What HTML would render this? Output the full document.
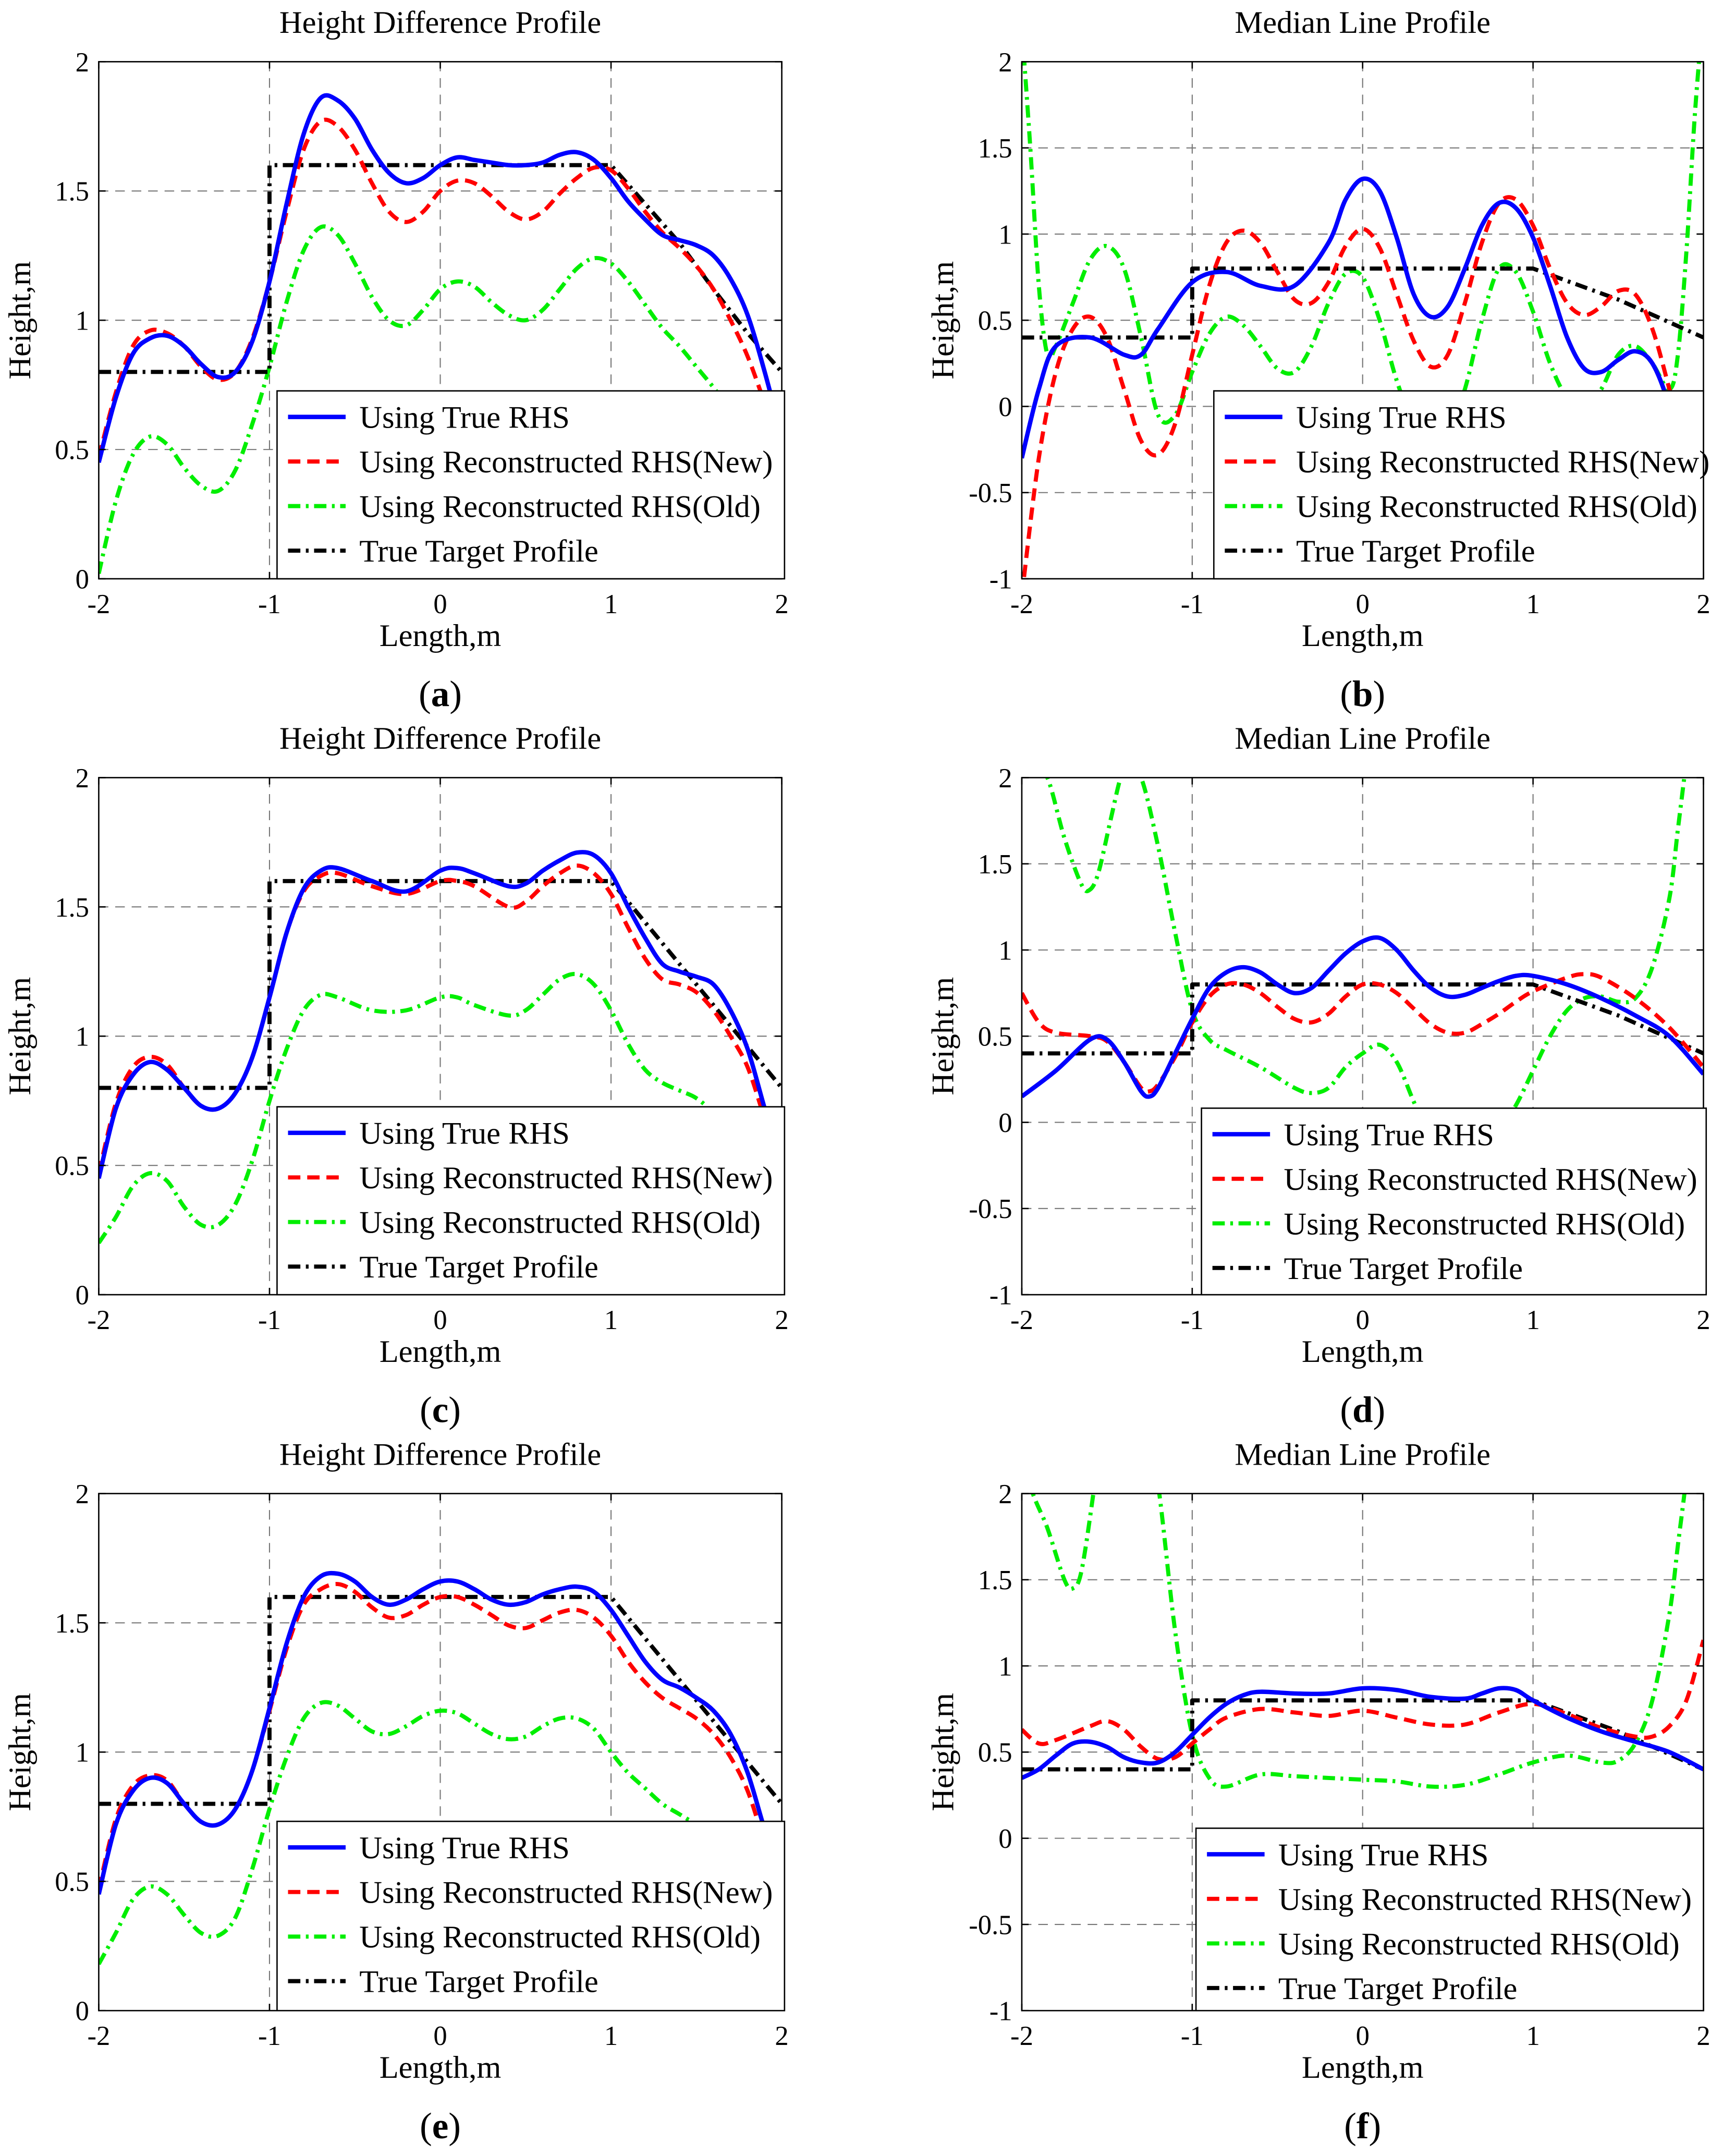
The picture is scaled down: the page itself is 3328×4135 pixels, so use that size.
<!DOCTYPE html>
<html><head><meta charset="utf-8">
<style>
html,body{margin:0;padding:0;background:#fff;}
svg{display:block;}
text{font-family:"Liberation Serif",serif;fill:#000;}
</style></head>
<body>
<svg id="fig" xmlns="http://www.w3.org/2000/svg" width="3328" height="4135" viewBox="0 0 1265 1572" preserveAspectRatio="none"></svg>
<script>
// ---------- DATA ----------
const legendLabels = ["Using True RHS","Using Reconstructed RHS(New)","Using Reconstructed RHS(Old)","True Target Profile"];
const xTicks = [-2,-1,0,1,2];
const yTicksHD = [0,0.5,1,1.5,2];
const yTicksML = [-1,-0.5,0,0.5,1,1.5,2];

// Panel a
const aBlueX=[-2,-1.9,-1.8,-1.7,-1.6,-1.5,-1.4,-1.3,-1.2,-1.1,-1,-0.9,-0.8,-0.7,-0.6,-0.5,-0.4,-0.3,-0.2,-0.1,0,0.1,0.2,0.3,0.4,0.5,0.6,0.7,0.8,0.9,1,1.1,1.2,1.3,1.4,1.5,1.6,1.7,1.8,1.9,2];
const aBlueY=[0.45,0.7,0.87,0.93,0.94,0.9,0.83,0.78,0.8,0.92,1.15,1.45,1.72,1.86,1.85,1.78,1.66,1.57,1.53,1.55,1.6,1.63,1.62,1.61,1.6,1.6,1.61,1.64,1.65,1.62,1.55,1.46,1.39,1.33,1.31,1.29,1.25,1.16,1.02,0.8,0.55];
const aRedY=[0.47,0.72,0.9,0.96,0.95,0.9,0.82,0.77,0.8,0.93,1.15,1.42,1.66,1.77,1.75,1.66,1.53,1.42,1.38,1.42,1.5,1.54,1.53,1.48,1.42,1.39,1.42,1.49,1.55,1.59,1.58,1.51,1.42,1.34,1.28,1.21,1.12,1.0,0.86,0.68,0.5];
const aGreenY=[0.02,0.3,0.48,0.55,0.52,0.43,0.36,0.34,0.42,0.6,0.82,1.07,1.27,1.36,1.33,1.22,1.09,1.0,0.98,1.04,1.12,1.15,1.13,1.07,1.02,1.0,1.04,1.12,1.2,1.24,1.22,1.15,1.06,0.97,0.9,0.82,0.74,0.65,0.55,0.45,0.35];
const aBlackX=[-2,-1,-1,1,1.2,1.4,1.6,1.8,2];
const aBlackY=[0.8,0.8,1.6,1.6,1.45,1.3,1.12,0.95,0.8];

// Panel b
const bBlueX=[-2,-1.9,-1.8,-1.6,-1.4,-1.3,-1.2,-1,-0.8,-0.6,-0.4,-0.2,-0.1,0,0.1,0.2,0.3,0.4,0.5,0.6,0.7,0.8,0.9,1,1.1,1.2,1.3,1.4,1.5,1.6,1.7,1.8,1.9];
const bBlueY=[-0.3,0.1,0.35,0.4,0.3,0.3,0.45,0.72,0.78,0.7,0.7,0.95,1.2,1.32,1.25,0.98,0.65,0.52,0.58,0.8,1.05,1.18,1.15,0.98,0.7,0.4,0.22,0.2,0.27,0.32,0.25,0.0,-0.4];
const bRedX=[-2,-1.9,-1.8,-1.7,-1.6,-1.5,-1.4,-1.3,-1.2,-1.1,-1,-0.9,-0.8,-0.7,-0.6,-0.5,-0.4,-0.3,-0.2,-0.1,0,0.1,0.2,0.3,0.4,0.5,0.6,0.7,0.8,0.9,1,1.1,1.2,1.3,1.4,1.5,1.6,1.7,1.8,1.9];
const bRedY=[-1.1,-0.3,0.2,0.45,0.52,0.4,0.1,-0.2,-0.28,-0.1,0.3,0.7,0.95,1.02,0.95,0.78,0.62,0.6,0.72,0.93,1.03,0.92,0.65,0.38,0.23,0.3,0.6,0.95,1.18,1.2,1.05,0.8,0.6,0.53,0.58,0.67,0.65,0.45,0.1,-0.3];
const bGreenX=[-2,-1.95,-1.9,-1.85,-1.8,-1.7,-1.6,-1.5,-1.4,-1.3,-1.2,-1.1,-1,-0.9,-0.8,-0.7,-0.6,-0.5,-0.4,-0.3,-0.2,-0.1,0,0.1,0.2,0.3,0.4,0.5,0.6,0.7,0.8,0.9,1,1.1,1.2,1.3,1.4,1.5,1.6,1.7,1.8,1.85,1.9,1.95,2];
const bGreenY=[2.2,1.5,0.7,0.3,0.35,0.6,0.85,0.93,0.8,0.4,-0.05,-0.05,0.2,0.42,0.52,0.47,0.35,0.22,0.2,0.35,0.6,0.77,0.75,0.5,0.15,-0.1,-0.2,-0.15,0.1,0.5,0.8,0.78,0.55,0.25,0.05,0.0,0.1,0.3,0.35,0.25,0.1,0.3,0.9,1.7,2.3];
const bBlackX=[-2,-1,-1,1,1.5,2];
const bBlackY=[0.4,0.4,0.8,0.8,0.62,0.4];

// Panel c
const cBlueX=[-2,-1.9,-1.8,-1.7,-1.6,-1.5,-1.4,-1.3,-1.2,-1.1,-1,-0.9,-0.8,-0.7,-0.6,-0.4,-0.2,0,0.1,0.2,0.4,0.5,0.6,0.7,0.8,0.9,1,1.1,1.2,1.3,1.4,1.5,1.6,1.7,1.8,1.9,2];
const cBlueY=[0.45,0.72,0.85,0.9,0.87,0.8,0.73,0.72,0.78,0.92,1.15,1.4,1.57,1.64,1.65,1.6,1.56,1.64,1.65,1.63,1.58,1.59,1.64,1.68,1.71,1.7,1.63,1.5,1.38,1.28,1.25,1.23,1.2,1.1,0.95,0.72,0.5];
const cRedY=[0.47,0.74,0.88,0.92,0.89,0.8,0.73,0.72,0.78,0.92,1.15,1.4,1.56,1.62,1.63,1.58,1.55,1.6,1.6,1.58,1.5,1.52,1.58,1.63,1.66,1.63,1.55,1.42,1.3,1.22,1.2,1.17,1.1,1.0,0.88,0.68,0.48];
const cGreenY=[0.2,0.3,0.42,0.47,0.44,0.34,0.27,0.27,0.35,0.52,0.75,0.95,1.1,1.16,1.15,1.1,1.1,1.15,1.15,1.12,1.08,1.1,1.16,1.22,1.24,1.2,1.1,0.97,0.87,0.82,0.79,0.76,0.7,0.6,0.5,0.4,0.3];
const cBlackX=[-2,-1,-1,1,1.5,2];
const cBlackY=[0.8,0.8,1.6,1.6,1.2,0.8];

// Panel d
const dBlueX=[-2,-1.8,-1.6,-1.5,-1.4,-1.3,-1.25,-1.2,-1.1,-1,-0.9,-0.8,-0.7,-0.6,-0.5,-0.4,-0.3,-0.2,-0.1,0,0.1,0.2,0.3,0.4,0.5,0.6,0.7,0.8,0.9,1,1.2,1.4,1.6,1.8,2];
const dBlueY=[0.15,0.3,0.48,0.48,0.35,0.18,0.15,0.2,0.4,0.6,0.78,0.87,0.9,0.87,0.8,0.75,0.78,0.88,0.98,1.05,1.07,1.0,0.88,0.78,0.73,0.74,0.78,0.82,0.85,0.85,0.8,0.72,0.62,0.5,0.28];
const dRedX=[-2,-1.9,-1.8,-1.6,-1.5,-1.4,-1.3,-1.25,-1.2,-1.1,-1,-0.9,-0.8,-0.7,-0.6,-0.5,-0.4,-0.3,-0.2,-0.1,0,0.1,0.2,0.3,0.4,0.5,0.6,0.7,0.8,0.9,1,1.2,1.3,1.4,1.6,1.8,2];
const dRedY=[0.75,0.58,0.52,0.5,0.47,0.35,0.2,0.18,0.22,0.38,0.58,0.73,0.8,0.8,0.75,0.67,0.6,0.58,0.63,0.73,0.8,0.8,0.75,0.66,0.57,0.52,0.52,0.57,0.63,0.7,0.76,0.84,0.86,0.84,0.72,0.55,0.32];
const dGreenX=[-2,-1.93,-1.85,-1.75,-1.65,-1.6,-1.55,-1.48,-1.42,-1.38,-1.3,-1.2,-1.1,-1,-0.9,-0.8,-0.6,-0.4,-0.3,-0.2,-0.1,0,0.1,0.2,0.3,0.4,0.6,0.8,0.9,1,1.1,1.2,1.3,1.4,1.5,1.6,1.7,1.8,1.85,1.9,1.95];
const dGreenY=[2.3,2.05,2.0,1.65,1.38,1.35,1.45,1.75,2.0,2.05,2.0,1.6,1.1,0.65,0.48,0.42,0.32,0.2,0.17,0.2,0.32,0.4,0.45,0.35,0.12,-0.1,-0.25,-0.05,0.1,0.3,0.5,0.65,0.72,0.73,0.7,0.72,0.9,1.3,1.7,2.1,2.5];
const dBlackX=[-2,-1,-1,1,1.5,2];
const dBlackY=[0.4,0.4,0.8,0.8,0.62,0.4];

// Panel e
const eBlueX=[-2,-1.9,-1.8,-1.7,-1.6,-1.5,-1.4,-1.3,-1.2,-1.1,-1,-0.9,-0.8,-0.7,-0.6,-0.5,-0.4,-0.3,-0.2,-0.1,0,0.1,0.2,0.3,0.4,0.5,0.6,0.7,0.8,0.9,1,1.1,1.2,1.3,1.4,1.5,1.6,1.7,1.8,1.9,2];
const eBlueY=[0.45,0.72,0.85,0.9,0.88,0.8,0.73,0.72,0.78,0.93,1.17,1.42,1.6,1.68,1.69,1.66,1.6,1.57,1.59,1.63,1.66,1.66,1.63,1.59,1.57,1.58,1.61,1.63,1.64,1.62,1.55,1.45,1.35,1.28,1.25,1.21,1.16,1.07,0.92,0.7,0.5];
const eRedY=[0.47,0.74,0.87,0.91,0.89,0.8,0.73,0.72,0.78,0.93,1.16,1.4,1.57,1.63,1.65,1.62,1.56,1.52,1.53,1.57,1.6,1.6,1.57,1.53,1.49,1.48,1.51,1.54,1.55,1.52,1.45,1.35,1.27,1.21,1.17,1.13,1.07,0.98,0.85,0.65,0.47];
const eGreenY=[0.18,0.3,0.43,0.48,0.45,0.37,0.3,0.29,0.36,0.55,0.78,0.98,1.13,1.19,1.18,1.13,1.08,1.07,1.1,1.14,1.16,1.15,1.11,1.07,1.05,1.06,1.1,1.13,1.13,1.09,1.0,0.92,0.86,0.8,0.76,0.72,0.68,0.6,0.5,0.4,0.3];
const eBlackX=[-2,-1,-1,1,1.5,2];
const eBlackY=[0.8,0.8,1.6,1.6,1.2,0.8];

// Panel f
const fBlueX=[-2,-1.9,-1.8,-1.7,-1.6,-1.5,-1.4,-1.3,-1.2,-1.1,-1,-0.9,-0.8,-0.7,-0.6,-0.4,-0.2,0,0.2,0.4,0.6,0.7,0.8,0.9,1,1.2,1.4,1.6,1.8,2];
const fBlueY=[0.35,0.4,0.48,0.55,0.56,0.53,0.47,0.44,0.44,0.5,0.6,0.7,0.78,0.83,0.85,0.84,0.84,0.87,0.86,0.82,0.81,0.84,0.87,0.86,0.8,0.7,0.62,0.56,0.5,0.4];
const fRedX=[-2,-1.9,-1.8,-1.6,-1.5,-1.4,-1.3,-1.2,-1.1,-1,-0.9,-0.8,-0.6,-0.4,-0.2,0,0.2,0.4,0.6,0.8,1,1.2,1.4,1.6,1.7,1.8,1.9,2];
const fRedY=[0.63,0.55,0.57,0.65,0.68,0.63,0.53,0.46,0.47,0.55,0.63,0.7,0.75,0.73,0.71,0.74,0.7,0.66,0.66,0.73,0.78,0.72,0.64,0.59,0.59,0.65,0.8,1.15];
const fGreenX=[-2,-1.95,-1.85,-1.75,-1.7,-1.65,-1.58,-1.5,-1.3,-1.2,-1.1,-1,-0.9,-0.8,-0.6,-0.4,-0.2,0,0.2,0.4,0.6,0.8,1,1.2,1.4,1.5,1.6,1.7,1.8,1.85,1.9,1.95];
const fGreenY=[2.4,2.05,1.8,1.5,1.45,1.55,2.0,2.6,2.6,2.05,1.2,0.6,0.35,0.3,0.37,0.36,0.35,0.34,0.33,0.3,0.31,0.37,0.44,0.48,0.44,0.45,0.55,0.8,1.3,1.7,2.1,2.6];
const fBlackX=[-2,-1,-1,1,1.5,2];
const fBlackY=[0.4,0.4,0.8,0.8,0.62,0.4];

// ---------- RENDER ----------
const NS="http://www.w3.org/2000/svg";
const svg=document.getElementById('fig');
function mk(tag,attrs,parent){const e=document.createElementNS(NS,tag);for(const k in attrs)e.setAttribute(k,attrs[k]);(parent||svg).appendChild(e);return e;}

function smoothPath(xs,ys,sx,sy){
  const p=xs.map((x,i)=>[sx(x),sy(ys[i])]);
  let d=`M${p[0][0].toFixed(2)},${p[0][1].toFixed(2)}`;
  for(let i=0;i<p.length-1;i++){
    const p0=p[Math.max(0,i-1)],p1=p[i],p2=p[i+1],p3=p[Math.min(p.length-1,i+2)];
    const c1=[p1[0]+(p2[0]-p0[0])/6,p1[1]+(p2[1]-p0[1])/6];
    const c2=[p2[0]-(p3[0]-p1[0])/6,p2[1]-(p3[1]-p1[1])/6];
    d+=` C${c1[0].toFixed(2)},${c1[1].toFixed(2)} ${c2[0].toFixed(2)},${c2[1].toFixed(2)} ${p2[0].toFixed(2)},${p2[1].toFixed(2)}`;
  }
  return d;
}
function linePath(xs,ys,sx,sy){return xs.map((x,i)=>(i?'L':'M')+sx(x).toFixed(2)+','+sy(ys[i]).toFixed(2)).join(' ');}

const styles={
  blue:{stroke:'#0000ff',w:3.2,dash:''},
  red:{stroke:'#ff0000',w:3,dash:'9 5'},
  green:{stroke:'#00ee00',w:3,dash:'9 4 2 4'},
  black:{stroke:'#000000',w:3,dash:'9 4 2 4'}
};

function panel(opt){
  const {id,x0,x1,y0,y1,ymin,ymax,yTicks,title,caption,legend,series}=opt;
  const g=mk('g',{});
  
  
  const sx=v=>x0+(v+2)/4*(x1-x0);
  const sy=v=>y1-(v-ymin)/(ymax-ymin)*(y1-y0);
  mk('rect',{x:x0,y:y0,width:x1-x0,height:y1-y0,fill:'#fff'},g);
  const grid=mk('g',{stroke:'#777','stroke-width':0.8,'stroke-dasharray':'7 5',fill:'none'},g);
  
  
  xTicks.slice(1,-1).forEach(t=>mk('line',{x1:sx(t),x2:sx(t),y1:y0,y2:y1},grid));
  yTicks.slice(1,-1).forEach(t=>mk('line',{x1:x0,x2:x1,y1:sy(t),y2:sy(t)},grid));
  const cid='clip-'+id;
  const cp=mk('clipPath',{id:cid},g);mk('rect',{x:x0,y:y0,width:x1-x0,height:y1-y0},cp);
  const sg=mk('g',{'clip-path':`url(#${cid})`},g);
  series.forEach(s=>{
    const st=styles[s.c];
    const d=s.c==='black'?linePath(s.x,s.y,sx,sy):smoothPath(s.x,s.y,sx,sy);
    const pth=mk('path',{d:d,fill:'none',stroke:st.stroke,'stroke-width':st.w,'stroke-dasharray':st.dash,'stroke-linejoin':'round'},sg);
    
    
  });
  const box=mk('rect',{x:x0,y:y0,width:x1-x0,height:y1-y0,fill:'none',stroke:'#000','stroke-width':1},g);
  
  
  xTicks.forEach(t=>{
    mk('line',{x1:sx(t),x2:sx(t),y1:y1,y2:y1-5,stroke:'#000','stroke-width':1},g);
    mk('line',{x1:sx(t),x2:sx(t),y1:y0,y2:y0+5,stroke:'#000','stroke-width':1},g);
    const tx=mk('text',{x:sx(t),y:y1+25,'text-anchor':'middle','font-size':20},g);tx.textContent=String(t);
    
    
  });
  yTicks.forEach(t=>{
    mk('line',{x1:x0,x2:x0+5,y1:sy(t),y2:sy(t),stroke:'#000','stroke-width':1},g);
    mk('line',{x1:x1,x2:x1-5,y1:sy(t),y2:sy(t),stroke:'#000','stroke-width':1},g);
    const tx=mk('text',{x:x0-7,y:sy(t)+7,'text-anchor':'end','font-size':20},g);tx.textContent=String(t);
    
    
  });
  const tt=mk('text',{x:(x0+x1)/2,y:y0-21,'text-anchor':'middle','font-size':23},g);tt.textContent=title;
  
  
  const xl=mk('text',{x:(x0+x1)/2,y:y1+49,'text-anchor':'middle','font-size':23},g);xl.textContent='Length,m';
  
  
  const yx=x0-50,yy=(y0+y1)/2;
  const yl=mk('text',{x:yx,y:yy,'text-anchor':'middle','font-size':23,transform:`rotate(-90 ${yx} ${yy})`},g);yl.textContent='Height,m';
  
  
  const cap=mk('text',{x:(x0+x1)/2,y:y1+93,'text-anchor':'middle','font-size':27},g);
  cap.innerHTML=`(<tspan font-weight="bold">${caption}</tspan>)`;
  
  
  const lg=mk('g',{},g);
  
  
  mk('rect',{x:legend.x,y:legend.y,width:legend.w,height:legend.h,fill:'#fff',stroke:'#000','stroke-width':1},lg);
  ['blue','red','green','black'].forEach((c,i)=>{
    const st=styles[c];const ly=legend.y+19+i*32.5;
    const ln=mk('line',{x1:legend.x+8,x2:legend.x+50,y1:ly,y2:ly,stroke:st.stroke,'stroke-width':st.w,'stroke-dasharray':st.dash},lg);
    
    
    const tx=mk('text',{x:legend.x+60,y:ly+8,'font-size':23},lg);tx.textContent=legendLabels[i];
    
    
  });
}

const HD='Height Difference Profile', ML='Median Line Profile';
panel({id:'a',x0:72,x1:570,y0:45,y1:422,ymin:0,ymax:2,yTicks:yTicksHD,title:HD,caption:'a',
  legend:{x:202,y:285,w:370,h:137},
  series:[{c:'green',x:aBlueX,y:aGreenY},{c:'black',x:aBlackX,y:aBlackY},{c:'red',x:aBlueX,y:aRedY},{c:'blue',x:aBlueX,y:aBlueY}]});
panel({id:'b',x0:745,x1:1242,y0:45,y1:422,ymin:-1,ymax:2,yTicks:yTicksML,title:ML,caption:'b',
  legend:{x:885,y:285,w:357,h:137},
  series:[{c:'green',x:bGreenX,y:bGreenY},{c:'black',x:bBlackX,y:bBlackY},{c:'red',x:bRedX,y:bRedY},{c:'blue',x:bBlueX,y:bBlueY}]});
panel({id:'c',x0:72,x1:570,y0:567,y1:944,ymin:0,ymax:2,yTicks:yTicksHD,title:HD,caption:'c',
  legend:{x:202,y:807,w:370,h:137},
  series:[{c:'green',x:cBlueX,y:cGreenY},{c:'black',x:cBlackX,y:cBlackY},{c:'red',x:cBlueX,y:cRedY},{c:'blue',x:cBlueX,y:cBlueY}]});
panel({id:'d',x0:745,x1:1242,y0:567,y1:944,ymin:-1,ymax:2,yTicks:yTicksML,title:ML,caption:'d',
  legend:{x:876,y:808,w:368,h:136},
  series:[{c:'green',x:dGreenX,y:dGreenY},{c:'black',x:dBlackX,y:dBlackY},{c:'red',x:dRedX,y:dRedY},{c:'blue',x:dBlueX,y:dBlueY}]});
panel({id:'e',x0:72,x1:570,y0:1089,y1:1466,ymin:0,ymax:2,yTicks:yTicksHD,title:HD,caption:'e',
  legend:{x:202,y:1328,w:370,h:138},
  series:[{c:'green',x:eBlueX,y:eGreenY},{c:'black',x:eBlackX,y:eBlackY},{c:'red',x:eBlueX,y:eRedY},{c:'blue',x:eBlueX,y:eBlueY}]});
panel({id:'f',x0:745,x1:1242,y0:1089,y1:1466,ymin:-1,ymax:2,yTicks:yTicksML,title:ML,caption:'f',
  legend:{x:872,y:1333,w:370,h:133},
  series:[{c:'green',x:fGreenX,y:fGreenY},{c:'black',x:fBlackX,y:fBlackY},{c:'red',x:fRedX,y:fRedY},{c:'blue',x:fBlueX,y:fBlueY}]});
</script>
</body></html>
